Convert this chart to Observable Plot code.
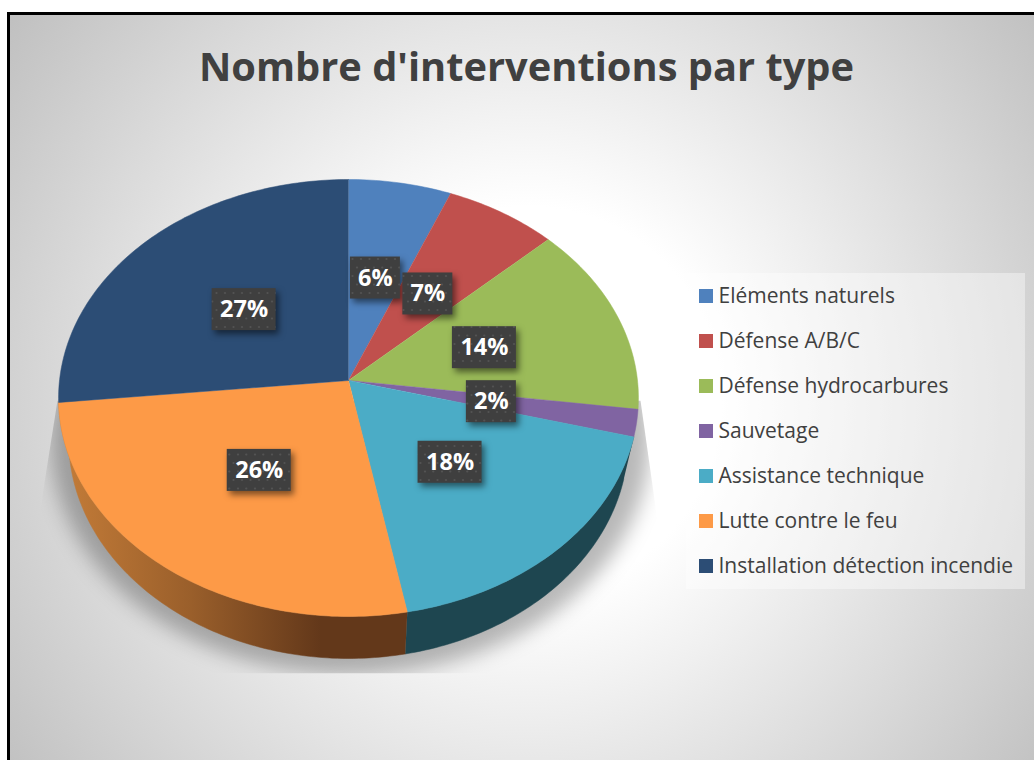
<!DOCTYPE html>
<html lang="fr">
<head>
<meta charset="utf-8">
<script src="https://cdn.jsdelivr.net/npm/d3@7"></script>
<script src="https://cdn.jsdelivr.net/npm/@observablehq/plot@0.6"></script>
<style>
  html, body { margin: 0; padding: 0; background: #fff; }
  #page { position: relative; width: 1034px; height: 760px; overflow: hidden; }
  #frame { position: absolute; left: 7px; top: 12px; width: 1040px; height: 760px; box-sizing: border-box;
    border-left: 3px solid #000; border-top: 3px solid #000;
    background: radial-gradient(circle 645px at 518px 385px, #fff 30%, #c0c0c0 100%); }
  #title { position: absolute; left: 0; top: 36px; width: 1053px; margin: 0; text-align: center;
    font: 700 39.8px "Open Sans", sans-serif; line-height: 60px; color: #404040; }
  #chart { position: absolute; left: 0; top: 0; }
  #chart svg { display: block; background: transparent; }
  .ground { filter: blur(10px); clip-path: url(#groundClip); }
  .badge { filter: drop-shadow(3px 4px 3px rgba(0,0,0,.5)); }
</style>
</head>
<body>
<div id="page">
  <div id="frame"></div>
  <h1 id="title">Nombre d'interventions par type</h1>
  <div id="chart"></div>
</div>
<script>
const titleText = "Nombre d'interventions par type";
const categories = ["Eléments naturels", "Défense A/B/C", "Défense hydrocarbures", "Sauvetage", "Assistance technique", "Lutte contre le feu", "Installation détection incendie"];
const shares = [6.2, 6.8, 14.1, 2, 17.9, 26.4, 26.6];
const colors = ["#4f81bd", "#c0504d", "#9bbb59", "#8064a2", "#4bacc6", "#fd9a47", "#2c4d75"];
const sideFills = { "Assistance technique": "#1e4650", "Lutte contre le feu": "url(#orangeSide)" };

// tilted, perspective pie: turns a share position and a radial fraction into page units
const C = { x: 348, y: 380, a: 289, b: 217.1, k: 0.0801, depth: 42, shrink: 0.965 };
function project(turn, r, lower = false) {
  const t = turn * 2 * Math.PI, u = Math.sin(t) * r, v = -Math.cos(t) * r, w = 1 - C.k * v;
  return {
    x: C.x + (lower ? C.shrink : 1) * C.a * u / w,
    y: C.y + C.b * v / w + (lower ? C.depth : 0)
  };
}
function arcTurns(a, b) {
  const n = Math.max(2, Math.ceil((b - a) * 360));
  return d3.range(n + 1).map(i => a + (b - a) * i / n);
}

let acc = 0;
const slices = categories.map((cat, i) => {
  const start = acc / 100; acc += shares[i]; const end = acc / 100;
  return { cat, share: shares[i], start, end, mid: (start + end) / 2 };
});
const wedgePts = slices.flatMap(s => [
  { ...project(0, 0), cat: s.cat },
  ...arcTurns(s.start, s.end).map(t => ({ ...project(t, 1), cat: s.cat }))
]);
const sideMarks = slices.filter(s => sideFills[s.cat]).map(s => {
  const turns = arcTurns(s.start, s.end);
  const pts = [...turns.map(t => project(t, 1)), ...turns.slice().reverse().map(t => project(t, 1, true))];
  return Plot.line(pts, { x: "x", y: "y", fill: sideFills[s.cat], stroke: sideFills[s.cat], strokeWidth: 0.5 });
});
const groundPts = arcTurns(0, 1).map(t => {
  const p = project(t, 1.07, true);
  return { x: p.x + 2, y: p.y - 2 };
});
const labels = slices.map(s => {
  const p = project(s.mid, 0.5);
  const text = Math.round(s.share) + "%";
  const half = text.length > 2 ? 32 : 25;
  return { ...p, text, x1: p.x - half, x2: p.x + half, y1: p.y - 21, y2: p.y + 21 };
});
const legendRows = categories.map((cat, i) => ({ cat, y: 296 + i * 45 }));

function defs() {
  const d = d3.create("svg:defs");
  const g = d.append("linearGradient").attr("id", "orangeSide").attr("gradientUnits", "userSpaceOnUse")
    .attr("x1", 60).attr("x2", 320).attr("y1", 0).attr("y2", 0);
  g.append("stop").attr("offset", 0).attr("stop-color", "#c47c38");
  g.append("stop").attr("offset", 0.5).attr("stop-color", "#9a5f2b");
  g.append("stop").attr("offset", 1).attr("stop-color", "#63381a");
  const p = d.append("pattern").attr("id", "dots").attr("patternUnits", "userSpaceOnUse").attr("width", 17).attr("height", 17);
  p.append("rect").attr("width", 17).attr("height", 17).attr("fill", "#3f3f3f");
  [[4, 4], [12.5, 4], [8.25, 12.5], [0, 12.5], [17, 12.5]].forEach(([x, y]) =>
    p.append("circle").attr("cx", x).attr("cy", y).attr("r", 1.1).attr("fill", "#535353"));
  d.append("clipPath").attr("id", "groundClip").attr("clipPathUnits", "userSpaceOnUse")
    .append("polygon").attr("points", "57,400 38,520 38,673 657,673 657,520 640,400");
  return d.node();
}

const chart = Plot.plot({
  width: 1034, height: 760, margin: 0,
  x: { domain: [0, 1034], range: [0, 1034], axis: null },
  y: { domain: [0, 760], range: [0, 760], axis: null },
  color: { domain: categories, range: colors },
  marks: [
    defs,
    Plot.line(groundPts, { x: "x", y: "y", fill: "#000", fillOpacity: 0.28, stroke: "none", className: "ground" }),
    ...sideMarks,
    Plot.line(wedgePts, { x: "x", y: "y", z: "cat", fill: "cat", stroke: "cat", strokeWidth: 0.5 }),
    Plot.rect(labels, { x1: "x1", x2: "x2", y1: "y1", y2: "y2", fill: "url(#dots)", className: "badge" }),
    Plot.text(labels, { x: "x", y: "y", text: "text", fill: "#fff", fontWeight: 700, fontSize: 23.5, fontFamily: "Open Sans, sans-serif" }),
    Plot.rect([{ x1: 686, x2: 1025, y1: 273, y2: 589 }], { x1: "x1", x2: "x2", y1: "y1", y2: "y2", fill: "#fff", fillOpacity: 0.4 }),
    Plot.rect(legendRows, { x1: 699, x2: 713, y1: d => d.y - 7, y2: d => d.y + 7, fill: "cat" }),
    Plot.text(legendRows, { x: 718, y: "y", text: "cat", textAnchor: "start", fill: "#404040", fontSize: 21, fontFamily: "Open Sans, sans-serif" })
  ]
});
document.getElementById("chart").append(chart);
document.getElementById("title").textContent = titleText;
</script>
</body>
</html>
